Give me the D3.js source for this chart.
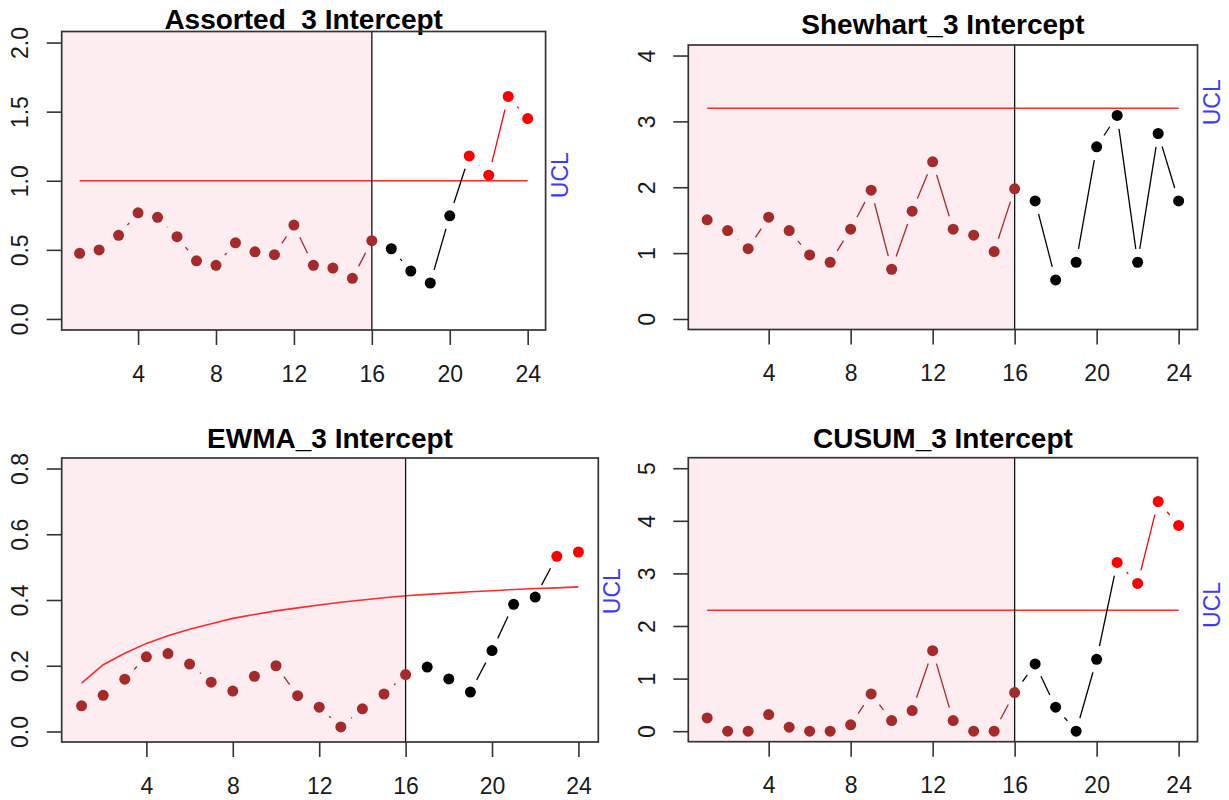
<!DOCTYPE html>
<html lang="en">
<head>
<meta charset="UTF-8">
<title>Control charts - 3 Intercept</title>
<style>
    body { margin: 0; background: #fff; }
    svg text { font-family: "Liberation Sans", Arial, sans-serif; }
</style>
</head>
<body>
<svg id="chart" width="1229" height="800"></svg>
<script src="https://cdn.jsdelivr.net/npm/d3@7"></script>
<script>
// ---- data ----
const runs = d3.range(1, 25);
const xTicks = [4, 8, 12, 16, 20, 24];
const phaseEnd = 16;

const titles = ["Assorted_3 Intercept", "Shewhart_3 Intercept", "EWMA_3 Intercept", "CUSUM_3 Intercept"];

const assorted = [0.475, 0.499, 0.605, 0.768, 0.735, 0.595, 0.421, 0.388, 0.551, 0.486, 0.465, 0.679,
                  0.388, 0.368, 0.294, 0.566, 0.508, 0.347, 0.260, 0.746, 1.18, 1.04, 1.61, 1.45];
const shewhart = [1.505, 1.342, 1.068, 1.545, 1.342, 0.973, 0.861, 1.363, 1.956, 0.755, 1.636, 2.386,
                  1.363, 1.272, 1.023, 1.976, 1.793, 0.593, 0.861, 2.614, 3.09, 0.861, 2.816, 1.793];
const ewma = [0.078, 0.110, 0.159, 0.227, 0.237, 0.205, 0.150, 0.123, 0.168, 0.200, 0.109, 0.074,
              0.014, 0.069, 0.114, 0.173, 0.196, 0.160, 0.120, 0.246, 0.387, 0.409, 0.533, 0.546];
const cusum = [0.253, 0, 0, 0.316, 0.076, 0, 0, 0.120, 0.708, 0.202, 0.392, 1.531,
               0.202, 0, 0, 0.734, 1.278, 0.456, 0, 1.367, 3.209, 2.810, 4.367, 3.912];

const uclAssorted = [1.0];
const uclShewhart = [3.2];
const uclEwma = [0.147, 0.203, 0.238, 0.268, 0.291, 0.311, 0.328, 0.344, 0.356, 0.367, 0.376, 0.385,
                 0.393, 0.400, 0.407, 0.413, 0.417, 0.421, 0.425, 0.428, 0.432, 0.435, 0.437, 0.440];
const uclCusum = [2.3];

// where the blue "UCL" tag sits on the right margin (data units)
const uclTagAt = [1.04, 3.29, 0.427, 2.40];

const yTicksAssorted = [0, 0.5, 1.0, 1.5, 2.0];
const yTicksShewhart = [0, 1, 2, 3, 4];
const yTicksEwma = [0, 0.2, 0.4, 0.6, 0.8];
const yTicksCusum = [0, 1, 2, 3, 4, 5];

// ---- layout ----
const panels = [
    { values: assorted, ucl: uclAssorted, ticks: yTicksAssorted, fmt: d3.format(".1f"), ymax: 2,
      box: { left: 61.7, right: 545.6, top: 31.5, bottom: 330 }, titleY: 29.3 },
    { values: shewhart, ucl: uclShewhart, ticks: yTicksShewhart, fmt: d3.format("d"), ymax: 4,
      box: { left: 688.3, right: 1197.5, top: 45, bottom: 329.5 }, titleY: 34.3 },
    { values: ewma, ucl: uclEwma, ticks: yTicksEwma, fmt: d3.format(".1f"), ymax: 0.8,
      box: { left: 61.7, right: 598.3, top: 458, bottom: 742 }, titleY: 447.7 },
    { values: cusum, ucl: uclCusum, ticks: yTicksCusum, fmt: d3.format("d"), ymax: 5,
      box: { left: 688.3, right: 1197.5, top: 457.7, bottom: 741.7 }, titleY: 448 }
];

const BROWN = "#a52a2a", RED = "#ff0000", BLACK = "#000000";
const svg = d3.select("#chart");

panels.forEach((p, k) => {
    const b = p.box;
    // R style: limits padded by 4% each side
    const x = d3.scaleLinear().domain([1 - 0.92, 24 + 0.92]).range([b.left, b.right]);
    const pad = p.ymax * 0.04;
    const y = d3.scaleLinear().domain([-pad, p.ymax + pad]).range([b.bottom, b.top]);
    const uclAt = i => p.ucl.length > 1 ? p.ucl[i] : p.ucl[0];

    const g = svg.append("g");

    // title first, so the plot region paints over anything hanging below the baseline
    g.append("text")
        .attr("x", (b.left + b.right) / 2).attr("y", p.titleY)
        .attr("text-anchor", "middle")
        .attr("font-size", 28).attr("font-weight", "bold")
        .text(titles[k]);

    // phase I shading
    g.append("rect")
        .attr("x", b.left).attr("y", b.top)
        .attr("width", x(phaseEnd) - b.left).attr("height", b.bottom - b.top)
        .attr("fill", "#fdedf1");

    // UCL
    g.append("path")
        .datum(runs)
        .attr("d", d3.line().x(d => x(d)).y((d, i) => y(uclAt(i))))
        .attr("fill", "none").attr("stroke", "#ff2a2a").attr("stroke-width", 1.6);

    // phase boundary
    g.append("line")
        .attr("x1", x(phaseEnd)).attr("x2", x(phaseEnd))
        .attr("y1", b.top).attr("y2", b.bottom)
        .attr("stroke", "#111").attr("stroke-width", 1.3);

    // point colours
    const pts = runs.map((r, i) => ({
        r: r, v: p.values[i],
        col: r <= phaseEnd ? BROWN : (p.values[i] > uclAt(i) ? RED : BLACK)
    }));

    // type = "b" segments with a gap around every point
    const gap = 13.5;
    const segs = [];
    for (let i = 0; i < pts.length - 1; i++) {
        const a = pts[i], c = pts[i + 1];
        const x1 = x(a.r), y1 = y(a.v), x2 = x(c.r), y2 = y(c.v);
        const len = Math.hypot(x2 - x1, y2 - y1);
        if (len <= 2 * gap) continue;
        const ux = (x2 - x1) / len, uy = (y2 - y1) / len;
        let col = BLACK;
        if (a.col === RED && c.col === RED) col = RED;
        else if (c.r <= phaseEnd) col = BROWN;
        segs.push({ x1: x1 + ux * gap, y1: y1 + uy * gap, x2: x2 - ux * gap, y2: y2 - uy * gap, col: col });
    }
    g.selectAll("line.seg").data(segs).enter().append("line")
        .attr("class", "seg")
        .attr("x1", d => d.x1).attr("y1", d => d.y1)
        .attr("x2", d => d.x2).attr("y2", d => d.y2)
        .attr("stroke", d => d.col).attr("stroke-width", 1.3);

    g.selectAll("circle").data(pts).enter().append("circle")
        .attr("cx", d => x(d.r)).attr("cy", d => y(d.v))
        .attr("r", 5.5)
        .attr("fill", d => d.col);

    // box
    g.append("rect")
        .attr("x", b.left).attr("y", b.top)
        .attr("width", b.right - b.left).attr("height", b.bottom - b.top)
        .attr("fill", "none").attr("stroke", "#333").attr("stroke-width", 1.7);

    // x axis
    const xa = g.append("g")
        .attr("transform", `translate(0,${b.bottom})`)
        .call(d3.axisBottom(x).tickValues(xTicks).tickSize(15).tickFormat(d3.format("d")));
    xa.select(".domain").remove();
    xa.selectAll("line").attr("stroke", "#333").attr("stroke-width", 1.6);
    xa.selectAll("text")
        .attr("y", 51.5).attr("dy", null)
        .attr("font-size", 23).attr("fill", "#1a1a1a")
        .attr("font-family", "Liberation Sans, Arial, sans-serif");

    // y axis
    const ya = g.append("g")
        .attr("transform", `translate(${b.left},0)`)
        .call(d3.axisLeft(y).tickValues(p.ticks).tickSize(15).tickFormat(p.fmt));
    ya.select(".domain").remove();
    ya.selectAll("line").attr("stroke", "#333").attr("stroke-width", 1.6);
    ya.selectAll("text")
        .attr("x", null).attr("dy", null)
        .attr("transform", "translate(-33.5,0) rotate(-90)")
        .attr("text-anchor", "middle")
        .attr("font-size", 23).attr("fill", "#1a1a1a")
        .attr("font-family", "Liberation Sans, Arial, sans-serif");

    // UCL tag
    g.append("text")
        .attr("transform", `translate(${b.right + 22},${y(uclTagAt[k])}) rotate(-90)`)
        .attr("text-anchor", "middle")
        .attr("font-size", 23).attr("fill", "#3b3bff")
        .text("UCL");
});
</script>
</body>
</html>
